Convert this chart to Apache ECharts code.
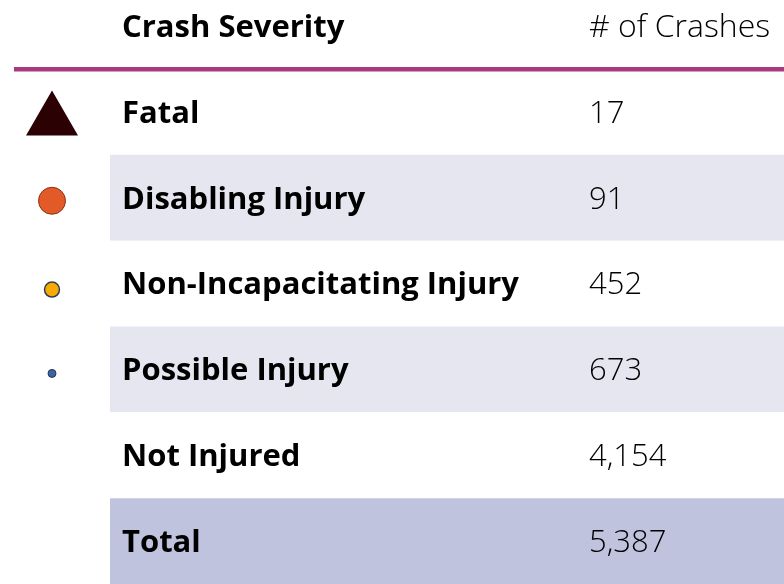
<!DOCTYPE html>
<html>
<head>
<meta charset="utf-8">
<script src="https://cdn.jsdelivr.net/npm/echarts@6/dist/echarts.min.js"></script>
<style>
  html, body { margin: 0; padding: 0; background: #fff; }
  #chart { width: 784px; height: 584px; }
</style>
</head>
<body>
<div id="chart"></div>
<script>
// table contents
var headers = ['Crash Severity', '# of Crashes'];
var severities = ['Fatal', 'Disabling Injury', 'Non-Incapacitating Injury', 'Possible Injury', 'Not Injured', 'Total'];
var crashes = [17, 91, 452, 673, 4154, 5387];

// look of each row (not data)
var rowFill = ['#ffffff', '#e6e6f1', '#ffffff', '#e6e6f1', '#ffffff', '#c0c3dd'];
var markerStyle = [
    { symbol: 'triangle', symbolSize: [52, 45], symbolOffset: [0, 1], itemStyle: { color: '#2b0104' } },
    { symbol: 'circle', symbolSize: 27, symbolOffset: [0, 3], itemStyle: { color: '#e15a28', borderColor: '#8a3412', borderWidth: 1 } },
    { symbol: 'circle', symbolSize: 15, symbolOffset: [0, 6], itemStyle: { color: '#f9aa00', borderColor: '#2c3f5c', borderWidth: 1.5 } },
    { symbol: 'circle', symbolSize: 8, symbolOffset: [0, 4], itemStyle: { color: '#3f63a0', borderColor: '#22355a', borderWidth: 1 } },
    null,
    null
];

var labelX = 122, numberX = 589, markerX = 52, shadeStart = 110, W = 784;
var boldFont = '"Open Sans"';
var lightFont = '"Open Sans"';

var myChart = echarts.init(document.getElementById('chart'));

var markerData = [];
for (var i = 0; i < severities.length; i++) {
    if (!markerStyle[i]) continue;
    var m = markerStyle[i];
    markerData.push({
        value: [markerX, severities[i]],
        symbol: m.symbol,
        symbolSize: m.symbolSize,
        symbolOffset: m.symbolOffset,
        itemStyle: Object.assign({ opacity: 1 }, m.itemStyle)
    });
}

var option = {
    animation: false,
    grid: { left: 0, right: 0, top: 69, bottom: -2 },
    xAxis: { type: 'value', min: 0, max: W, show: false },
    yAxis: {
        type: 'category',
        inverse: true,
        data: severities,
        show: false
    },
    graphic: [
        {
            type: 'text', x: labelX, y: 28, z: 100,
            style: { text: headers[0], font: 'bold 31px ' + boldFont, fill: '#000', textVerticalAlign: 'middle' }
        },
        {
            type: 'text', x: numberX, y: 28, z: 100,
            style: { text: headers[1], font: '300 32px ' + lightFont, fill: '#000', textVerticalAlign: 'middle' }
        },
        {
            type: 'rect', x: 14, y: 67, z: 100,
            shape: { width: W - 14, height: 4.5 },
            style: { fill: '#a93a80' }
        }
    ],
    series: [
        {
            type: 'bar', stack: 'bg', silent: true,
            barWidth: '100%',
            itemStyle: { color: 'transparent' },
            data: severities.map(function () { return shadeStart; })
        },
        {
            type: 'bar', stack: 'bg', silent: true,
            barWidth: '100%',
            data: severities.map(function (s, i) {
                return { value: W - shadeStart, itemStyle: { color: rowFill[i] } };
            })
        },
        {
            type: 'scatter', silent: true,
            emphasis: { disabled: true },
            data: markerData
        },
        {
            type: 'scatter', symbolSize: 0, silent: true,
            itemStyle: { opacity: 1 },
            emphasis: { disabled: true },
            data: severities.map(function (s) { return [labelX, s]; }),
            label: {
                show: true, position: 'right', distance: 0, offset: [0, 2],
                formatter: function (p) { return p.value[1]; },
                fontFamily: boldFont, fontWeight: 'bold', fontSize: 31, color: '#000'
            }
        },
        {
            type: 'scatter', symbolSize: 0, silent: true,
            itemStyle: { opacity: 1 },
            emphasis: { disabled: true },
            data: severities.map(function (s, i) { return [numberX, s, crashes[i]]; }),
            label: {
                show: true, position: 'right', distance: 0, offset: [0, 2],
                formatter: function (p) { return p.value[2].toLocaleString('en-US'); },
                fontFamily: lightFont, fontWeight: 300, fontSize: 31, color: '#000'
            }
        }
    ]
};
myChart.setOption(option);
</script>
</body>
</html>
